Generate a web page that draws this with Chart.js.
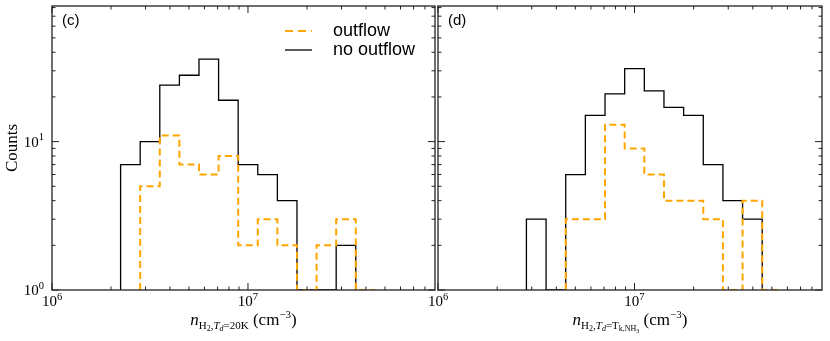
<!DOCTYPE html>
<html><head><meta charset="utf-8">
<script src="https://cdn.jsdelivr.net/npm/chart.js@4.4.0/dist/chart.umd.min.js"></script>
<style>
html,body{margin:0;padding:0;background:#fff;}
#wrap{position:relative;width:830px;height:341px;overflow:hidden;background:#fff;}
#c1{position:absolute;left:0;top:0;}
#c2{position:absolute;left:420px;top:0;}
</style></head><body>
<div id="wrap"><canvas id="c1" width="440" height="341"></canvas><canvas id="c2" width="410" height="341"></canvas></div>
<script>
// ---- data (log10 of bin edges in cm^-3, counts per bin; null = bin not drawn) ----
const binEdgesLog = [6.35, 6.45, 6.55, 6.65, 6.75, 6.85, 6.95, 7.05, 7.15, 7.25, 7.35, 7.45, 7.55, 7.65, 7.75];
const leftNoOutflow  = [7, 10, 24, 28, 36, 19, 7, 6, 4, 0, 0, 2, null, null];
const leftOutflow    = [null, 5, 11, 7, 6, 8, 2, 3, 2, 0, 2, 3, 0, null];
const rightNoOutflow = [null, 3, 0, 6, 15, 21, 31, 22, 17, 15, 7, 4, 3, null];
const rightOutflow   = [null, null, null, 3, 3, 13, 9, 6, 4, 4, 3, 0, 4, 0];
const seriesNames = ['outflow', 'no outflow'];
const xMajorExps = [6, 7];
const yMajorExps = [0, 1];
const xMin = 1e6, xMax = 9e7, yMin = 1, yMax = 82;
const panelLabels = ['(c)', '(d)'];

const ORANGE = '#FFA500';
const SERIF = '"Liberation Serif", "DejaVu Serif", serif';
const SANS = '"Liberation Sans", Arial, sans-serif';

function stepPoints(counts) {
  let i0 = counts.findIndex(v => v !== null);
  let i1 = counts.length - 1;
  while (counts[i1] === null) i1--;
  const pts = [{x: 10 ** binEdgesLog[i0], y: yMin}];
  for (let k = i0; k <= i1; k++) pts.push({x: 10 ** binEdgesLog[k], y: Math.max(counts[k], yMin)});
  pts.push({x: 10 ** binEdgesLog[i1 + 1], y: Math.max(counts[i1], yMin)});
  pts.push({x: 10 ** binEdgesLog[i1 + 1], y: yMin});
  return pts;
}

function drawPow(ctx, base, exp, x, y, align) {
  ctx.font = '15px ' + SERIF; const wb = ctx.measureText(base).width;
  ctx.font = '10.5px ' + SERIF; const we = ctx.measureText(exp).width;
  const tot = wb + we;
  const x0 = align === 'center' ? x - tot / 2 : (align === 'right' ? x - tot : x);
  ctx.textAlign = 'left'; ctx.textBaseline = 'alphabetic';
  ctx.font = '15px ' + SERIF; ctx.fillText(base, x0, y);
  ctx.font = '10.5px ' + SERIF; ctx.fillText(exp, x0 + wb, y - 6.5);
}

function drawRuns(ctx, runs, cx, by) {
  ctx.textAlign = 'left'; ctx.textBaseline = 'alphabetic';
  let w = 0;
  runs.forEach(r => { ctx.font = (r.it ? 'italic ' : '') + r.s + 'px ' + SERIF; r.w = ctx.measureText(r.t).width; w += r.w; });
  let x = cx - w / 2;
  runs.forEach(r => { ctx.font = (r.it ? 'italic ' : '') + r.s + 'px ' + SERIF; ctx.fillText(r.t, x, by + r.dy); x += r.w; });
}

const titleLeft = [
  {t: 'n', s: 17, dy: 0, it: true},
  {t: 'H', s: 11, dy: 4}, {t: '2', s: 8, dy: 6}, {t: ',', s: 11, dy: 4},
  {t: 'T', s: 11, dy: 4, it: true}, {t: 'd', s: 8, dy: 6, it: true},
  {t: '=20K', s: 11, dy: 4},
  {t: ' (cm', s: 17, dy: 0}, {t: '\u22123', s: 11, dy: -7}, {t: ')', s: 17, dy: 0}
];
const titleRight = [
  {t: 'n', s: 17, dy: 0, it: true},
  {t: 'H', s: 11, dy: 4}, {t: '2', s: 8, dy: 6}, {t: ',', s: 11, dy: 4},
  {t: 'T', s: 11, dy: 4, it: true}, {t: 'd', s: 8, dy: 6, it: true},
  {t: '=T', s: 11, dy: 4}, {t: 'k,NH', s: 8, dy: 6}, {t: '3', s: 6, dy: 8},
  {t: ' (cm', s: 17, dy: 0}, {t: '\u22123', s: 11, dy: -7}, {t: ')', s: 17, dy: 0}
];

const decor = {
  id: 'decor',
  afterDatasetsDraw(chart, args, o) {
    const ctx = chart.ctx, ca = chart.chartArea, xs = chart.scales.x, ys = chart.scales.y;
    ctx.save();
    ctx.strokeStyle = '#222'; ctx.fillStyle = '#000';
    // frame
    ctx.lineWidth = 1.3;
    ctx.strokeRect(ca.left, ca.top, ca.right - ca.left, ca.bottom - ca.top);
    // ticks
    ctx.lineWidth = 1;
    const tick = (x1, y1, x2, y2) => { ctx.beginPath(); ctx.moveTo(x1, y1); ctx.lineTo(x2, y2); ctx.stroke(); };
    for (let e = 6; e <= 7; e++) for (let m = 1; m <= 9; m++) {
      const v = m * 10 ** e; if (v < xMin || v >= xMax) continue;
      const px = xs.getPixelForValue(v), L = m === 1 ? 7 : 3.5;
      tick(px, ca.bottom, px, ca.bottom - L); tick(px, ca.top, px, ca.top + L);
    }
    for (let e = 0; e <= 1; e++) for (let m = 1; m <= 9; m++) {
      const v = m * 10 ** e; if (v < yMin || v > yMax) continue;
      const py = ys.getPixelForValue(v), L = m === 1 ? 7 : 3.5;
      tick(ca.left, py, ca.left + L, py); tick(ca.right, py, ca.right - L, py);
    }
    // x tick labels
    xMajorExps.forEach(e => drawPow(ctx, '10', String(e), xs.getPixelForValue(10 ** e), ca.bottom + 16, 'center'));
    if (o.yLabels) {
      yMajorExps.forEach(e => drawPow(ctx, '10', String(e), ca.left - 8, ys.getPixelForValue(10 ** e) + 5, 'right'));
      ctx.save();
      ctx.translate(13, (ca.top + ca.bottom) / 2); ctx.rotate(-Math.PI / 2);
      ctx.font = '17px ' + SERIF; ctx.textAlign = 'center'; ctx.textBaseline = 'middle';
      ctx.fillText('Counts', 0, 0);
      ctx.restore();
    }
    // x title
    drawRuns(ctx, o.title, (ca.left + ca.right) / 2, ca.bottom + 35);
    // panel label
    ctx.font = '15px ' + SANS; ctx.textAlign = 'left'; ctx.textBaseline = 'middle';
    ctx.fillText(o.label, ca.left + 10, ca.top + 15);
    // legend
    if (o.legend) {
      const lx = ca.left + 233, tx = ca.left + 281;
      ctx.lineWidth = 2; ctx.strokeStyle = ORANGE; ctx.setLineDash([8, 5]);
      tick(lx, 31, lx + 27, 31);
      ctx.setLineDash([]); ctx.lineWidth = 1.3; ctx.strokeStyle = '#000';
      tick(lx, 50, lx + 27, 50);
      ctx.font = '18px ' + SANS; ctx.fillStyle = '#000';
      ctx.fillText(seriesNames[0], tx, 31);
      ctx.fillText(seriesNames[1], tx, 50);
    }
    ctx.restore();
  }
};

function makeChart(id, outflow, noOutflow, pad, opts) {
  return new Chart(document.getElementById(id), {
    type: 'line',
    data: {
      datasets: [
        {label: seriesNames[0], data: stepPoints(outflow), borderColor: ORANGE, borderWidth: 2,
         borderDash: [7, 4], stepped: 'before', pointRadius: 0, fill: false, tension: 0},
        {label: seriesNames[1], data: stepPoints(noOutflow), borderColor: '#000', borderWidth: 1.3,
         stepped: 'before', pointRadius: 0, fill: false, tension: 0}
      ]
    },
    options: {
      responsive: false, animation: false, devicePixelRatio: 1,
      layout: {padding: pad},
      scales: {
        x: {type: 'logarithmic', min: xMin, max: xMax, display: false},
        y: {type: 'logarithmic', min: yMin, max: yMax, display: false}
      },
      plugins: {legend: {display: false}, tooltip: {enabled: false}, decor: opts}
    },
    plugins: [decor]
  });
}

makeChart('c1', leftOutflow, leftNoOutflow, {left: 52, right: 5, top: 6, bottom: 51},
  {yLabels: true, title: titleLeft, label: panelLabels[0], legend: true});
makeChart('c2', rightOutflow, rightNoOutflow, {left: 18, right: 8, top: 6, bottom: 51},
  {yLabels: false, title: titleRight, label: panelLabels[1], legend: false});
</script>
</body></html>
